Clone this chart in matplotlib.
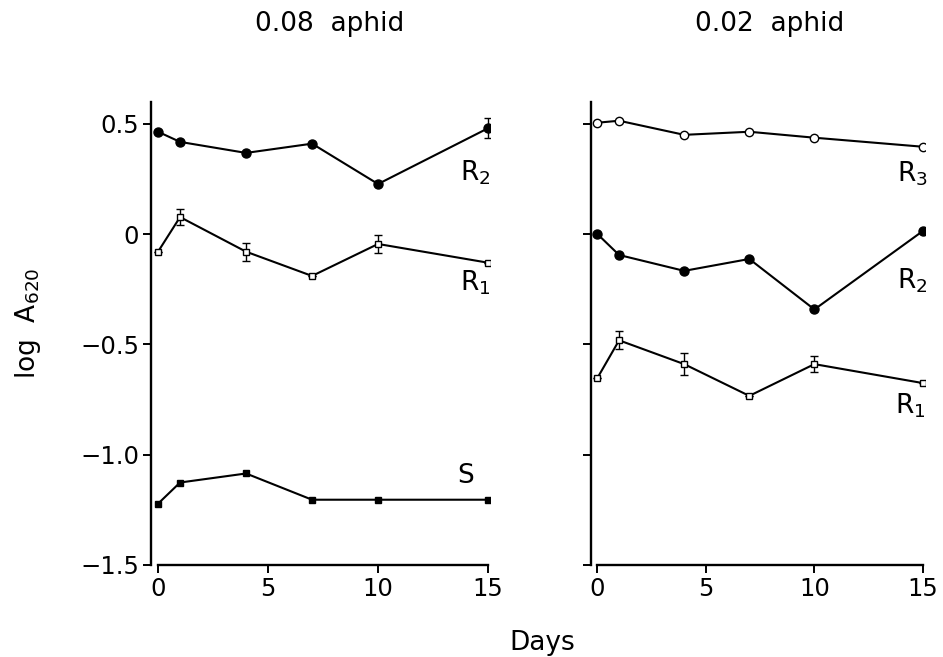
import matplotlib
matplotlib.use("Agg")
import matplotlib.pyplot as plt

plt.rcParams['font.family'] = ['DejaVu Sans']
plt.rcParams['mathtext.fontset'] = 'dejavusans'

# dias de amostragem
dias = [0, 1, 4, 7, 10, 15]

# painel esquerdo (0.08 aphid)
esq_r2 = [0.464, 0.418, 0.368, 0.410, 0.227, 0.480]
esq_r2_err = [0, 0, 0, 0, 0, 0.045]
esq_r1 = [-0.080, 0.077, -0.080, -0.190, -0.045, -0.130]
esq_r1_err = [0, 0.037, 0.040, 0, 0.040, 0]
esq_s = [-1.223, -1.127, -1.086, -1.205, -1.205, -1.205]

# painel direito (0.02 aphid)
dir_r3 = [0.505, 0.514, 0.450, 0.464, 0.437, 0.396]
dir_r2 = [0.000, -0.095, -0.167, -0.113, -0.342, 0.014]
dir_r1 = [-0.653, -0.482, -0.590, -0.734, -0.590, -0.676]
dir_r1_err = [0, 0.040, 0.050, 0, 0.035, 0]

titulos = ["0.08  aphid", "0.02  aphid"]
yticks = [0.5, 0, -0.5, -1.0, -1.5]
ytick_labels = ["0.5", "0", "\u22120.5", "\u22121.0", "\u22121.5"]
xticks = [0, 5, 10, 15]

fig = plt.figure(figsize=(9.43, 6.57), dpi=100)
ax1 = fig.add_axes([0.1606, 0.1404, 0.3593, 0.7047])
ax2 = fig.add_axes([0.6266, 0.1404, 0.3544, 0.7047])

lw = 1.5
barras = dict(capsize=3, elinewidth=1, capthick=1)
for ax in (ax1, ax2):
    ax.set_xlim(-0.3, 15.1)
    ax.set_ylim(-1.5, 0.6)
    for s in ("top", "right"):
        ax.spines[s].set_visible(False)
    ax.spines["left"].set_linewidth(1.7)
    ax.spines["bottom"].set_linewidth(1.7)
    ax.spines["bottom"].set_bounds(0, 15)
    ax.set_xticks(xticks)
    ax.set_xticklabels([str(t) for t in xticks])
    ax.set_yticks(yticks)
    ax.tick_params(direction="out", length=6, width=1.4, labelsize=17.5, pad=3)

ax1.set_yticklabels(ytick_labels)
ax2.set_yticklabels([])

# esquerdo
ax1.errorbar(dias, esq_r2, yerr=esq_r2_err, color="black", lw=lw, marker="o",
             ms=6.5, mfc="black", mec="black", **barras)
ax1.errorbar(dias, esq_r1, yerr=esq_r1_err, color="black", lw=lw, marker="s",
             ms=5, mfc="white", mec="black", mew=1, **barras)
ax1.plot(dias, esq_s, color="black", lw=lw, marker="s", ms=5, mfc="black", mec="black")

ax1.text(14.4, 0.277, r"R$_{2}$", fontsize=19, ha="center", va="center")
ax1.text(14.4, -0.222, r"R$_{1}$", fontsize=19, ha="center", va="center")
ax1.text(14.0, -1.097, "S", fontsize=19, ha="center", va="center")

# direito
ax2.plot(dias, dir_r3, color="black", lw=lw, marker="o", ms=6, mfc="white", mec="black", mew=1)
ax2.plot(dias, dir_r2, color="black", lw=lw, marker="o", ms=6.5, mfc="black", mec="black")
ax2.errorbar(dias, dir_r1, yerr=dir_r1_err, color="black", lw=lw, marker="s",
             ms=5, mfc="white", mec="black", mew=1, **barras)

ax2.text(14.5, 0.273, r"R$_{3}$", fontsize=19, ha="center", va="center")
ax2.text(14.5, -0.21, r"R$_{2}$", fontsize=19, ha="center", va="center")
ax2.text(14.4, -0.777, r"R$_{1}$", fontsize=19, ha="center", va="center")

# titulos e rotulos
fig.text(330 / 943, 1 - 24 / 657, titulos[0], fontsize=19, ha="center", va="center")
fig.text(770 / 943, 1 - 24 / 657, titulos[1], fontsize=19, ha="center", va="center")
fig.text(542 / 943, 1 - 643 / 657, "Days", fontsize=19, ha="center", va="center")
fig.text(28 / 943, 1 - 323 / 657, r"log  A$_{620}$", fontsize=19, ha="center",
         va="center", rotation=90)

plt.savefig("out.png", dpi=100)
